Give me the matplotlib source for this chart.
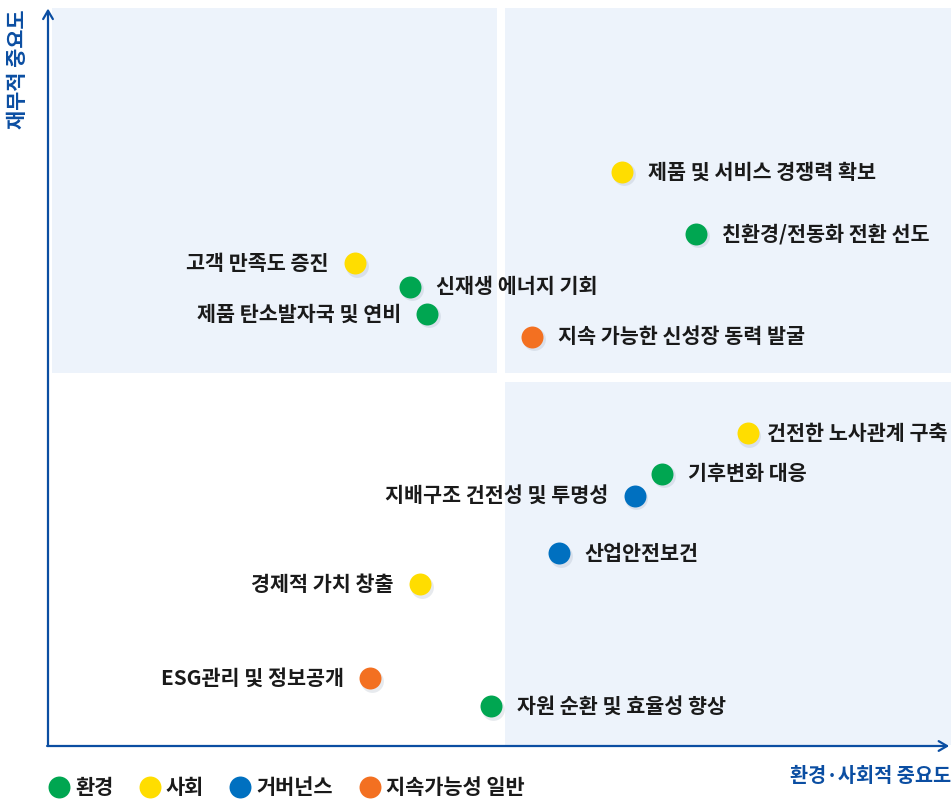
import matplotlib
matplotlib.use("Agg")
from matplotlib import pyplot as plt
from matplotlib.patches import Rectangle
from matplotlib import transforms

plt.rcParams['font.family'] = ['Noto Sans CJK KR', 'DejaVu Sans']

# 이슈 데이터 (x: 환경·사회적 중요도, y: 재무적 중요도, 0~100)
issues = ["제품 및 서비스 경쟁력 확보", "친환경/전동화 전환 선도", "고객 만족도 증진",
          "신재생 에너지 기회", "제품 탄소발자국 및 연비", "지속 가능한 신성장 동력 발굴",
          "건전한 노사관계 구축", "기후변화 대응", "지배구조 건전성 및 투명성",
          "산업안전보건", "경제적 가치 창출", "ESG관리 및 정보공개", "자원 순환 및 효율성 향상"]
env_soc = [63.6, 71.8, 34.0, 40.1, 42.0, 53.6, 77.5, 68.0, 65.0, 56.6, 41.2, 35.7, 49.1]
financial = [78.0, 69.6, 65.6, 62.4, 58.7, 55.6, 42.5, 37.0, 34.0, 26.2, 22.0, 9.2, 5.4]
group = ["사회", "환경", "사회", "환경", "환경", "지속가능성 일반", "사회", "환경",
         "거버넌스", "거버넌스", "사회", "지속가능성 일반", "환경"]
# 라벨 위치 (r: 오른쪽, l: 왼쪽, rn: 오른쪽 가깝게)
side = ["r", "r", "l", "r", "l", "r", "rn", "r", "l", "r", "l", "l", "r"]

groups = ["환경", "사회", "거버넌스", "지속가능성 일반"]
colors = {"환경": "#00a651", "사회": "#ffdd00", "거버넌스": "#0070c0", "지속가능성 일반": "#f37021"}
navy = "#0b4ea2"
bg = "#edf3fb"

fig = plt.figure(figsize=(9.51, 8.0), dpi=100)
ax = fig.add_axes([48/951, 54/800, 903/951, 736/800])
ax.set_xlim(0, 100)
ax.set_ylim(0, 100)
ax.axis("off")

# 사분면 배경
ax.add_patch(Rectangle((0.45, 50.7), 49.3, 49.6, color=bg, lw=0, clip_on=False))
ax.add_patch(Rectangle((50.6, 50.7), 49.4, 49.6, color=bg, lw=0, clip_on=False))
ax.add_patch(Rectangle((50.6, 0.1), 49.4, 49.4, color=bg, lw=0, clip_on=False))

# 축 화살표
arrow = dict(arrowstyle="->,head_length=0.6,head_width=0.35", color=navy, lw=1.6, shrinkA=0, shrinkB=0)
ax.annotate("", xy=(0, 100.2), xytext=(0, 0), arrowprops=arrow, annotation_clip=False)
ax.annotate("", xy=(99.8, 0), xytext=(-0.1, 0), arrowprops=arrow, annotation_clip=False)

shadow = transforms.offset_copy(ax.transData, fig=fig, x=1.5, y=-2.5, units="dots")
offsets = {"r": 18.5, "rn": 14.0, "l": -19}
for name, x, y, g, s in zip(issues, env_soc, financial, group, side):
    ax.scatter(x, y, s=270, color="#7f8ea3", alpha=0.18, zorder=2, linewidths=0, transform=shadow)
    ax.scatter(x, y, s=250, color=colors[g], zorder=3, linewidths=0)
    ax.annotate(name, (x, y), xytext=(offsets[s], 0), textcoords="offset points",
                ha="right" if s == "l" else "left", va="center",
                fontsize=14.9, fontweight="bold", color="#1a1a1a")

fig.text(18/951, 1 - 69/800, "재무적 중요도", rotation=90, ha="center", va="center",
         fontsize=15, fontweight="bold", color=navy)
fig.text(1.0, 1 - 776/800, "환경·사회적 중요도", ha="right", va="center",
         fontsize=14.2, fontweight="bold", color=navy)

# 범례
legend_x = [59, 150, 240, 370]
for g, lx in zip(groups, legend_x):
    fig.add_artist(plt.Line2D([lx/951], [1 - 787/800], marker="o", markersize=15.8, linestyle="",
                              markerfacecolor=colors[g], markeredgewidth=0, transform=fig.transFigure))
    fig.text((lx + 16)/951, 1 - 787/800, g, ha="left", va="center", fontsize=15,
             fontweight="bold", color="#1a1a1a")

fig.savefig("out.png", dpi=100)
